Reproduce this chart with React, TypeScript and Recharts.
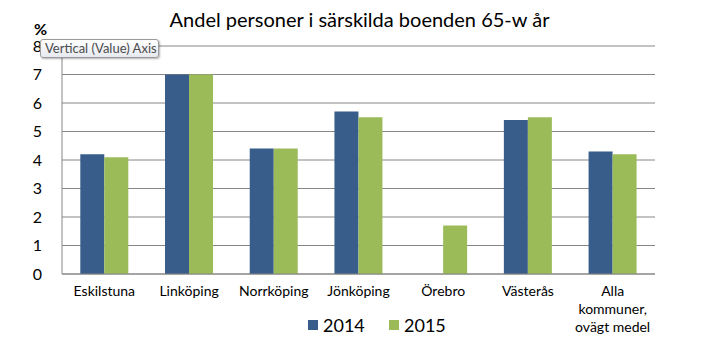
import React from "react";
import { BarChart, Bar, XAxis, YAxis, CartesianGrid } from "recharts";

const categories = ["Eskilstuna", "Linköping", "Norrköping", "Jönköping", "Örebro", "Västerås", "Alla kommuner, ovägt medel"];
const values2014: (number | null)[] = [4.2, 7.0, 4.4, 5.7, null, 5.4, 4.3];
const values2015: (number | null)[] = [4.1, 7.0, 4.4, 5.5, 1.7, 5.5, 4.2];
const yTicks = [0, 1, 2, 3, 4, 5, 6, 7, 8];
const seriesNames = ["2014", "2015"];
const colors = ["#385D8A", "#9BBB59"];
const title = "Andel personer i särskilda boenden 65-w år";

const categoryLines: Record<string, string[]> = {
  "Alla kommuner, ovägt medel": ["Alla", "kommuner,", "ovägt medel"],
};

const data = categories.map((c, i) => ({ name: c, v2014: values2014[i], v2015: values2015[i] }));

const FONT = "Lato, 'Open Sans', sans-serif";

const XTick = (props: any) => {
  const { x, y, payload } = props;
  const lines = categoryLines[payload.value] || [payload.value];
  return (
    <text x={x} y={y} textAnchor="middle" fontFamily={FONT} fontSize={14} fill="#000">
      {lines.map((l: string, i: number) => (
        <tspan key={i} x={x} dy={i === 0 ? 14 : 18}>{l}</tspan>
      ))}
    </text>
  );
};

const legendLeft = [308, 389];

export default function App() {
  return (
    <div style={{ position: "absolute", left: 0, top: 0, width: 719, height: 354, background: "#fff", fontFamily: FONT }}>
      <BarChart width={719} height={354} data={data} margin={{ top: 46, right: 64, left: 0, bottom: 0 }}
        barCategoryGap="21.6%" barGap={0}>
        <CartesianGrid vertical={false} stroke="#868686" strokeWidth={1} />
        <XAxis dataKey="name" height={80} interval={0} tick={<XTick />} tickLine={false}
          axisLine={{ stroke: "#868686" }} />
        <YAxis width={62} domain={[0, 8]} ticks={yTicks} tickLine={false} axisLine={{ stroke: "#868686" }}
          tickMargin={14} tick={{ fontFamily: FONT, fontSize: 16, fill: "#000" }} interval={0} />
        <Bar dataKey="v2014" name={seriesNames[0]} fill={colors[0]} isAnimationActive={false} />
        <Bar dataKey="v2015" name={seriesNames[1]} fill={colors[1]} isAnimationActive={false} />
      </BarChart>
      <div style={{ position: "absolute", left: 0, width: 719, top: 7, textAlign: "center", fontSize: 20, color: "#000" }}>
        {title}
      </div>
      <div style={{ position: "absolute", left: 34, top: 19, fontSize: 16, fontWeight: 700, color: "#000" }}>%</div>
      <div style={{
        position: "absolute", left: 40, top: 39, width: 119, height: 19, boxSizing: "border-box",
        border: "1px solid #9a9a9a", borderRadius: 3, background: "linear-gradient(#ffffff, #e6e9ef)",
        boxShadow: "1px 1px 2px rgba(0,0,0,0.3)", fontSize: 13, color: "#4c4c4c", lineHeight: "17px",
        paddingLeft: 4, whiteSpace: "nowrap",
      }}>Vertical (Value) Axis</div>
      {seriesNames.map((n, i) => (
        <div key={n} style={{ position: "absolute", left: legendLeft[i], top: 314, display: "flex", alignItems: "center", gap: 5, fontSize: 18 }}>
          <span style={{ display: "inline-block", width: 10, height: 10, background: colors[i] }} />
          <span>{n}</span>
        </div>
      ))}
    </div>
  );
}
